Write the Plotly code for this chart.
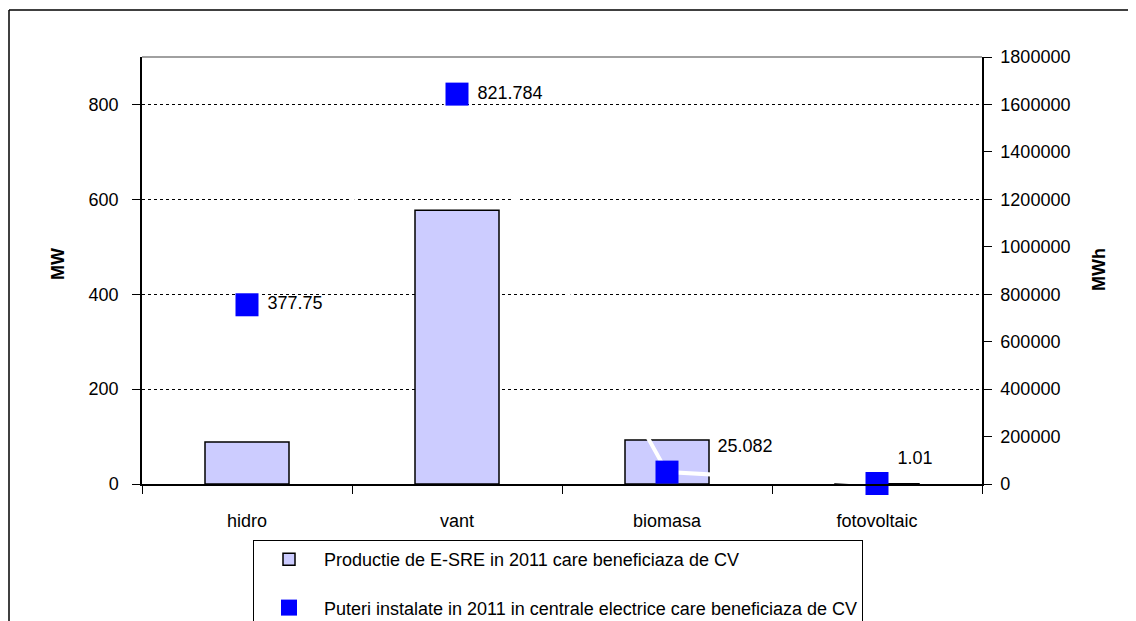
import plotly.graph_objects as go

# data
categories = ["hidro", "vant", "biomasa", "fotovoltaic"]
productie_mwh = [176800, 1153700, 185000, 1500]
putere_mw = [377.75, 821.784, 25.082, 1.01]
label_pos = ["middle right", "middle right", "top right", "top right"]
label_pad = [1, 1, 7, 1]  # leading spaces before each value label

FONT = "Liberation Sans, Arial, sans-serif"
W, H = 1136, 621
OFF = 8  # the page body margin pushes the figure 8px right and down
# plot area in page pixels: x 142..982, y 57..484
L, T = 142 - OFF, 57 - OFF
R, B = W - (982 - OFF), H - (484 - OFF)
PW, PH = W - L - R, H - T - B


def px_x(x):
    """page pixel x -> paper x"""
    return (x - OFF - L) / PW


def px_y(y):
    """page pixel y -> paper y"""
    return (H - B - (y - OFF)) / PH


fig = go.Figure()

fig.add_trace(
    go.Bar(
        x=categories,
        y=productie_mwh,
        name="Productie de E-SRE in 2011 care beneficiaza de CV",
        marker=dict(color="#CCCCFF", line=dict(color="black", width=1.5)),
        width=0.4,
        yaxis="y",
        legendgroup="a",
    )
)

fig.add_trace(
    go.Scatter(
        x=categories,
        y=putere_mw,
        name="Puteri instalate in 2011 in centrale electrice care beneficiaza de CV",
        mode="lines+markers+text",
        line=dict(color="white", width=4),
        marker=dict(symbol="square", size=23, color="#0000FF"),
        text=["\u00a0" * n + str(v) for n, v in zip(label_pad, putere_mw)],
        textposition=label_pos,
        textfont=dict(family=FONT, size=18, color="black"),
        cliponaxis=False,
        yaxis="y2",
        legendgroup="b",
    )
)

fig.update_layout(
    width=W,
    height=H,
    margin=dict(l=L, r=R, t=T, b=B, autoexpand=False),
    paper_bgcolor="white",
    plot_bgcolor="white",
    font=dict(family=FONT, size=18, color="black"),
    showlegend=True,
    legend=dict(
        x=px_x(253),
        y=px_y(540),
        xanchor="left",
        yanchor="top",
        bordercolor="black",
        borderwidth=1,
        bgcolor="white",
        tracegroupgap=22,
        itemwidth=60,
        traceorder="grouped",
        font=dict(family=FONT, size=18),
    ),
    xaxis=dict(
        type="category",
        tickson="boundaries",
        ticks="outside",
        ticklen=8,
        tickcolor="black",
        showline=True,
        linecolor="black",
        linewidth=1.5,
        showgrid=False,
        ticklabelstandoff=20,
    ),
    yaxis=dict(
        side="right",
        range=[0, 1800000],
        dtick=200000,
        tickformat="d",
        ticks="outside",
        ticklen=8,
        tickcolor="black",
        showline=True,
        linecolor="black",
        linewidth=1.5,
        showgrid=False,
        zeroline=False,
        ticklabelstandoff=5,
    ),
    yaxis2=dict(
        overlaying="y",
        side="left",
        range=[0, 900],
        dtick=200,
        ticks="outside",
        ticklen=8,
        tickcolor="black",
        showline=True,
        linecolor="black",
        linewidth=1.5,
        showgrid=True,
        gridcolor="black",
        griddash="dot",
        gridwidth=1,
        zeroline=False,
        ticklabelstandoff=10,
    ),
)

# axis titles
fig.add_annotation(
    text="<b>MW</b>", x=px_x(58), y=px_y(264), xref="paper", yref="paper",
    xanchor="center", yanchor="middle",
    textangle=-90, showarrow=False, font=dict(family=FONT, size=18),
)
fig.add_annotation(
    text="<b>MWh</b>", x=px_x(1099), y=px_y(270), xref="paper", yref="paper",
    xanchor="center", yanchor="middle",
    textangle=-90, showarrow=False, font=dict(family=FONT, size=18),
)

# gray top edge of plot area and the chart frame (top + left)
fig.add_shape(type="line", xref="paper", yref="paper", x0=0, x1=1, y0=1, y1=1,
              line=dict(color="#808080", width=1.5))
fig.add_shape(type="line", xref="paper", yref="paper", x0=px_x(9), x1=px_x(1150),
              y0=px_y(10), y1=px_y(10), line=dict(color="black", width=1.5))
fig.add_shape(type="line", xref="paper", yref="paper", x0=px_x(9), x1=px_x(9),
              y0=px_y(10), y1=px_y(640), line=dict(color="black", width=1.5))

fig.write_html("out.html")
